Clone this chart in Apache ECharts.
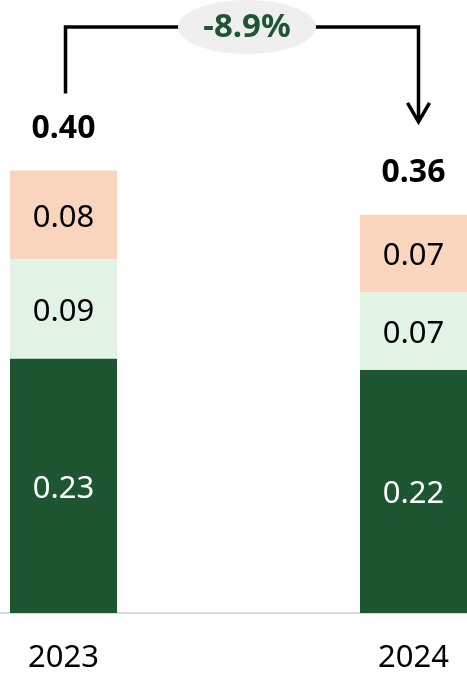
<!DOCTYPE html>
<html>
<head>
<meta charset="utf-8">
<script src="https://cdn.jsdelivr.net/npm/echarts@6/dist/echarts.min.js"></script>
<style>
  html, body { margin: 0; padding: 0; background: #fff; }
  #chart { width: 467px; height: 675px; }
</style>
</head>
<body>
<div id="chart"></div>
<script>
// data
const years = ['2023', '2024']
const baseValues = [0.23, 0.22]   // dark green
const midValues = [0.09, 0.07]    // light green
const topValues = [0.08, 0.07]    // peach
const totals = [0.40, 0.36]
const changeLabel = '-8.9%'

const FONT = '"Noto Sans", "Open Sans", sans-serif'

const chart = echarts.init(document.getElementById('chart'))

const segLabel = (color) => ({
  show: true,
  position: 'inside',
  offset: [0, 3],
  color: color,
  fontSize: 31,
  fontFamily: FONT,
  formatter: (p) => p.value.toFixed(2)
})

chart.setOption({
  animation: false,
  grid: {
    left: -111.5,
    right: -121.5,
    top: 60,
    bottom: 62,
    containLabel: false,
    outerBoundsMode: 'none'
  },
  xAxis: {
    type: 'category',
    data: years,
    axisLine: { lineStyle: { color: '#d9d9d9', width: 2 } },
    axisTick: { show: false },
    axisLabel: {
      color: '#000',
      fontSize: 31,
      fontFamily: FONT,
      margin: 30
    }
  },
  yAxis: {
    type: 'value',
    min: 0,
    max: 0.5,
    show: false,
    splitLine: { show: false }
  },
  series: [
    {
      name: 'base',
      type: 'bar',
      stack: 'total',
      barWidth: 107,
      data: baseValues,
      itemStyle: { color: '#1f5632' },
      label: segLabel('#fff')
    },
    {
      name: 'mid',
      type: 'bar',
      stack: 'total',
      barWidth: 107,
      data: midValues,
      itemStyle: { color: '#e2f3e6' },
      label: segLabel('#000')
    },
    {
      name: 'top',
      type: 'bar',
      stack: 'total',
      barWidth: 107,
      data: topValues,
      itemStyle: { color: '#f9d5be' },
      label: segLabel('#000')
    },
    {
      name: 'total',
      type: 'scatter',
      symbolSize: 0,
      data: totals,
      itemStyle: { opacity: 1 },
      label: {
        show: true,
        position: 'inside',
        offset: [0, -42],
        color: '#000',
        fontSize: 32,
        fontWeight: 'bold',
        fontFamily: FONT,
        formatter: (p) => p.value.toFixed(2)
      }
    }
  ]
})

// change connector, placed from the totals' pixel positions
const p0 = chart.convertToPixel({ seriesIndex: 3 }, [0, totals[0]])
const p1 = chart.convertToPixel({ seriesIndex: 3 }, [1, totals[1]])
const x0 = p0[0] + 2
const x1 = p1[0] + 5
const yTop = 27
const yStart = p0[1] - 77
const yTip = p1[1] - 93
const midX = (x0 + x1) / 2 + 5

chart.setOption({
  graphic: [
    {
      type: 'polyline',
      shape: { points: [[x0, yStart], [x0, yTop], [x1, yTop], [x1, yTip]] },
      style: { stroke: '#000', lineWidth: 3.5, fill: null },
      z: 10
    },
    {
      type: 'polyline',
      shape: { points: [[x1 - 11, yTip - 19], [x1, yTip], [x1 + 11, yTip - 19]] },
      style: { stroke: '#000', lineWidth: 3.5, fill: null },
      z: 10
    },
    {
      type: 'ellipse',
      shape: { cx: midX, cy: yTop, rx: 69, ry: 27 },
      style: { fill: '#efefef' },
      z: 11
    },
    {
      type: 'text',
      x: midX,
      y: yTop + 1,
      style: {
        text: changeLabel,
        fill: '#1f5632',
        font: 'bold 33px ' + FONT,
        align: 'center',
        verticalAlign: 'middle'
      },
      z: 12
    }
  ]
})
</script>
</body>
</html>
